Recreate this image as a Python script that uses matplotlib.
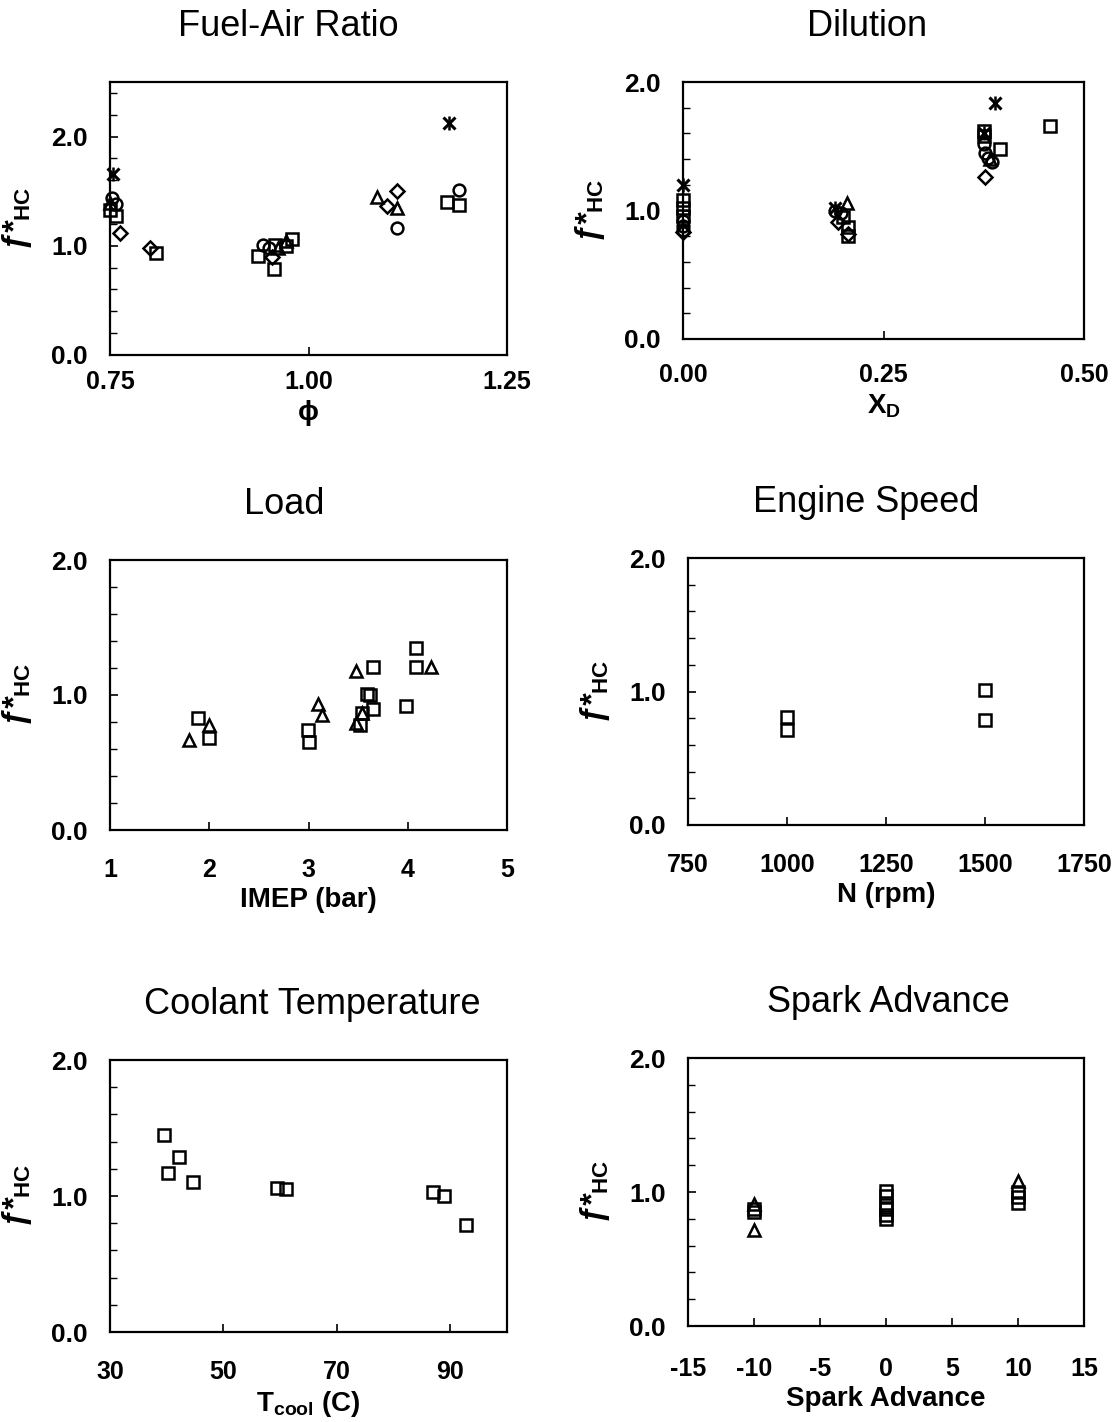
import matplotlib
matplotlib.use("Agg")
import matplotlib.pyplot as plt
from matplotlib.ticker import MultipleLocator

plt.rcParams["font.family"] = ["Liberation Sans", "DejaVu Sans"]
plt.rcParams["mathtext.fontset"] = "custom"
plt.rcParams["mathtext.rm"] = "Liberation Sans:bold"
plt.rcParams["mathtext.bf"] = "Liberation Sans:bold"
plt.rcParams["mathtext.it"] = "Liberation Sans:bold"

# ---- Fuel-Air Ratio (phi) ----
fa_sq_x = [0.757, 0.750, 0.808, 0.936, 0.956, 0.958, 0.972, 0.979, 1.175, 1.190]
fa_sq_y = [1.27, 1.33, 0.93, 0.91, 0.79, 1.01, 1.00, 1.06, 1.40, 1.375]
fa_ci_x = [0.752, 0.758, 0.943, 0.950, 1.111, 1.190]
fa_ci_y = [1.44, 1.38, 1.01, 0.98, 1.16, 1.51]
fa_di_x = [0.762, 0.801, 0.954, 1.099, 1.112]
fa_di_y = [1.12, 0.98, 0.90, 1.36, 1.50]
fa_tr_x = [0.750, 0.962, 0.972, 1.086, 1.112]
fa_tr_y = [1.39, 0.98, 1.04, 1.45, 1.35]
fa_st_x = [0.754, 1.177]
fa_st_y = [1.66, 2.12]

# ---- Dilution (X_D) ----
di_sq_x = [0.0, 0.0, 0.0, 0.206, 0.206, 0.200, 0.375, 0.375, 0.395, 0.457]
di_sq_y = [1.08, 1.02, 0.96, 0.87, 0.80, 0.95, 1.62, 1.58, 1.48, 1.66]
di_ci_x = [0.0, 0.0, 0.0, 0.197, 0.190, 0.375, 0.377, 0.380, 0.385]
di_ci_y = [0.92, 0.88, 0.85, 0.98, 1.00, 1.52, 1.45, 1.41, 1.38]
di_di_x = [0.0, 0.193, 0.206, 0.376]
di_di_y = [0.83, 0.91, 0.82, 1.26]
di_tr_x = [0.204, 0.383]
di_tr_y = [1.06, 1.40]
di_st_x = [0.0, 0.190, 0.389, 0.375]
di_st_y = [1.20, 1.02, 1.84, 1.60]

# ---- Load (IMEP) ----
ld_sq_x = [1.89, 2.00, 2.99, 3.00, 3.65, 4.08, 4.08, 3.59, 3.62, 3.65, 3.98, 3.54, 3.52]
ld_sq_y = [0.83, 0.68, 0.74, 0.65, 1.21, 1.35, 1.21, 1.01, 1.00, 0.90, 0.92, 0.87, 0.78]
ld_tr_x = [2.00, 1.80, 3.10, 3.14, 3.48, 4.23, 3.54, 3.48]
ld_tr_y = [0.78, 0.67, 0.93, 0.85, 1.18, 1.21, 0.87, 0.79]

# ---- Engine Speed ----
sp_sq_x = [1000, 1000, 1500, 1500]
sp_sq_y = [0.81, 0.71, 1.01, 0.79]

# ---- Coolant Temperature ----
ct_sq_x = [39.5, 40.2, 42.1, 44.6, 59.5, 61.0, 87.0, 88.9, 92.8]
ct_sq_y = [1.45, 1.17, 1.29, 1.10, 1.06, 1.05, 1.03, 1.00, 0.79]

# ---- Spark Advance ----
sa_sq_x = [-10, -10, 0, 0, 0, 0, 0, 0, 10, 10, 10]
sa_sq_y = [0.87, 0.85, 1.01, 0.97, 0.90, 0.87, 0.83, 0.80, 1.00, 0.96, 0.92]
sa_tr_x = [-10, -10, 10]
sa_tr_y = [0.91, 0.72, 1.08]

W, H = 1120, 1422
fig = plt.figure(figsize=(W / 100, H / 100), dpi=100)


def make_axes(left, top, right, bottom):
    return fig.add_axes([left / W, 1 - bottom / H, (right - left) / W, (bottom - top) / H])


MK = dict(linestyle="none", markerfacecolor="none", markeredgecolor="black",
          markeredgewidth=1.8, clip_on=False, zorder=3)


def pts(ax, x, y, marker):
    if marker == "star":
        # crossed "x" with a vertical bar through it
        ax.plot(x, y, linestyle="none", marker="x", color="black",
                markersize=9, markeredgewidth=2.2, clip_on=False, zorder=3)
        ax.plot(x, y, linestyle="none", marker="|", color="black",
                markersize=10, markeredgewidth=1.8, clip_on=False, zorder=3)
    else:
        ms = {"D": 7.5, "o": 8.5, "^": 8.5, "s": 8.8}[marker]
        ax.plot(x, y, marker=marker, markersize=ms, **MK)


def style(ax, xlim, xticks, xtlabels, ylim, title, title_x, xlabel, xpad):
    ax.set_xlim(*xlim)
    ax.set_ylim(*ylim)
    ax.set_xticks(xticks)
    ax.set_xticklabels(xtlabels)
    ax.set_yticks([0, 1, 2])
    ax.set_yticklabels(["0.0", "1.0", "2.0"])
    ax.yaxis.set_minor_locator(MultipleLocator(0.2))
    ax.tick_params(axis="both", which="both", direction="in", top=False, right=False)
    ax.tick_params(axis="y", which="major", length=6, width=1.2, pad=16, labelsize=19)
    ax.tick_params(axis="y", which="minor", length=5, width=1.0)
    ax.tick_params(axis="x", which="major", length=6, width=1.2, pad=xpad, labelsize=18)
    for lab in ax.get_xticklabels() + ax.get_yticklabels():
        lab.set_fontweight("bold")
    for sp in ax.spines.values():
        sp.set_linewidth(1.6)
    ax.set_title(title, fontsize=26, pad=33, x=title_x)
    ax.set_xlabel(xlabel, fontsize=20, fontweight="bold", labelpad=4)
    ax.set_ylabel(r"ƒ*$_{\rm HC}$", fontsize=23, fontweight="bold",
                  fontstyle="italic", labelpad=12)


L1, R1 = 110, 507
L2, R2 = 688, 1084

ax1 = make_axes(L1, 82, R1, 355)
for x, y, m in [(fa_sq_x, fa_sq_y, "s"), (fa_ci_x, fa_ci_y, "o"), (fa_di_x, fa_di_y, "D"),
                (fa_tr_x, fa_tr_y, "^"), (fa_st_x, fa_st_y, "star")]:
    pts(ax1, x, y, m)
style(ax1, (0.75, 1.25), [0.75, 1.00, 1.25], ["0.75", "1.00", "1.25"], (0, 2.5),
      "Fuel-Air Ratio", 0.45, "ϕ", 11)

ax2 = make_axes(L2 - 5, 82, R2, 339)
for x, y, m in [(di_sq_x, di_sq_y, "s"), (di_ci_x, di_ci_y, "o"), (di_di_x, di_di_y, "D"),
                (di_tr_x, di_tr_y, "^"), (di_st_x, di_st_y, "star")]:
    pts(ax2, x, y, m)
style(ax2, (0, 0.5), [0, 0.25, 0.5], ["0.00", "0.25", "0.50"], (0, 2.0),
      "Dilution", 0.46, r"X$_{\rm D}$", 17)

ax3 = make_axes(L1, 560, R1, 830)
pts(ax3, ld_sq_x, ld_sq_y, "s")
pts(ax3, ld_tr_x, ld_tr_y, "^")
style(ax3, (1, 5), [1, 2, 3, 4, 5], ["1", "2", "3", "4", "5"], (0, 2.0),
      "Load", 0.44, "IMEP (bar)", 20)

ax4 = make_axes(L2, 558, R2, 825)
pts(ax4, sp_sq_x, sp_sq_y, "s")
style(ax4, (750, 1750), [750, 1000, 1250, 1500, 1750],
      ["750", "1000", "1250", "1500", "1750"], (0, 2.0),
      "Engine Speed", 0.45, "N (rpm)", 20)

ax5 = make_axes(L1, 1060, R1, 1332)
pts(ax5, ct_sq_x, ct_sq_y, "s")
style(ax5, (30, 100), [30, 50, 70, 90], ["30", "50", "70", "90"], (0, 2.0),
      "Coolant Temperature", 0.51, r"T$_{\rm cool}$ (C)", 20)

ax6 = make_axes(L2, 1058, R2, 1326)
pts(ax6, sa_sq_x, sa_sq_y, "s")
pts(ax6, sa_tr_x, sa_tr_y, "^")
style(ax6, (-15, 15), [-15, -10, -5, 0, 5, 10, 15],
      ["-15", "-10", "-5", "0", "5", "10", "15"], (0, 2.0),
      "Spark Advance", 0.505, "Spark Advance", 22)

fig.savefig("out.png", dpi=100)
